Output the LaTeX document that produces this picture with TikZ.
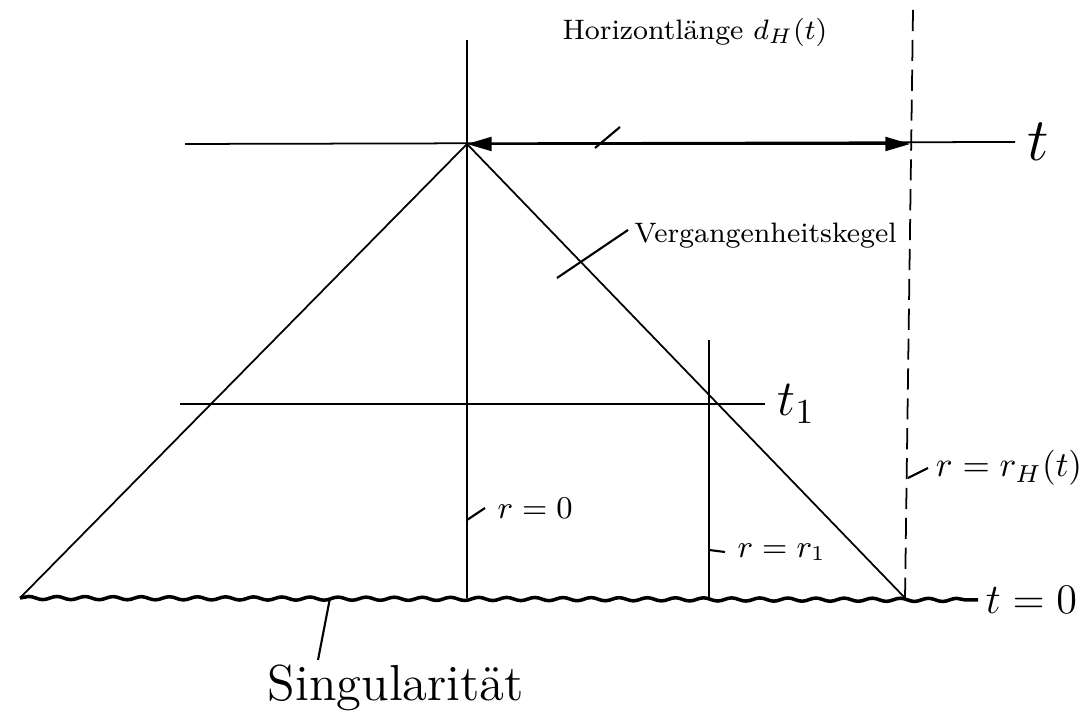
\documentclass[tikz,border=0pt]{standalone}
\usepackage{amsmath}
\usepackage{tikz}
\usetikzlibrary{arrows.meta,decorations.pathmorphing}

\tikzset{
    leader/.style={line width=0.6pt},
    welle/.style={line width=1pt, decorate,
        decoration={snake, amplitude=0.45pt, segment length=8pt}}
}

\begin{document}
\begin{tikzpicture}[line width=0.5pt]
    \useasboundingbox (0,0) rectangle (10.89,7.2);

    % Ereignis und Kegel
    \coordinate (S) at (4.67,5.76);
    \coordinate (L0) at (0.20,1.22);
    \coordinate (R0) at (9.05,1.22);
    \coordinate (H) at (9.10,5.76);

    % Zeitlinien
    \node[right] (t) at (10.15,5.78) {\LARGE $t$};
    \node[right] (t1) at (7.65,3.16) {\Large $t_1$};
    \node[right, inner sep=2pt] (t0) at (9.78,1.20) {\large $t=0$};
    \draw (1.85,5.76) -- (t.west);
    \draw (1.80,3.16) -- (t1.west);
    \draw[welle] (L0) -- (t0.west);

    % Weltlinien
    \draw (4.67,6.80) -- (4.67,1.22);
    \draw (7.09,3.80) -- (7.09,1.22);
    \draw[dash pattern=on 6pt off 2.5pt] (9.13,7.10) -- (9.05,1.22);

    % Kegel
    \draw (L0) -- (S) -- (R0);

    % Horizontlaenge
    \draw[{Triangle[length=7pt,width=4pt]}-{Triangle[length=7pt,width=4pt]}] (S) -- (H);

    % Beschriftungen
    \node[right] (hor) at (5.50,6.88) {\footnotesize Horizontl\"ange $d_H(t)$};
    \coordinate (h1) at (5.95,5.72);
    \coordinate (h2) at (6.20,5.93);
    \draw[leader] (h1) -- (h2);

    \node[right, inner sep=1pt] (kegel) at (6.30,4.84) {\footnotesize Vergangenheitskegel};
    \coordinate (k1) at (5.57,4.42);
    \coordinate (k2) at (6.28,4.90);
    \draw[leader] (k1) -- (k2);

    \node[right] (r0) at (4.85,2.12) {\small $r=0$};
    \coordinate (a1) at (4.67,2.00);
    \draw[leader] (a1) -- (r0.west);

    \node[right] (r1) at (7.25,1.68) {\small $r=r_1$};
    \coordinate (b1) at (7.09,1.70);
    \draw[leader] (b1) -- (r1.west);

    \node[right, inner sep=2pt] (rH) at (9.28,2.52) {$r=r_H(t)$};
    \coordinate (c1) at (9.08,2.42);
    \draw[leader] (c1) -- (rH.west);

    \node (sing) at (3.96,0.32) {\Large Singularit\"at};
    \coordinate (s1) at (3.30,1.22);
    \draw[leader] (s1) -- (3.18,0.60);
\end{tikzpicture}
\end{document}
